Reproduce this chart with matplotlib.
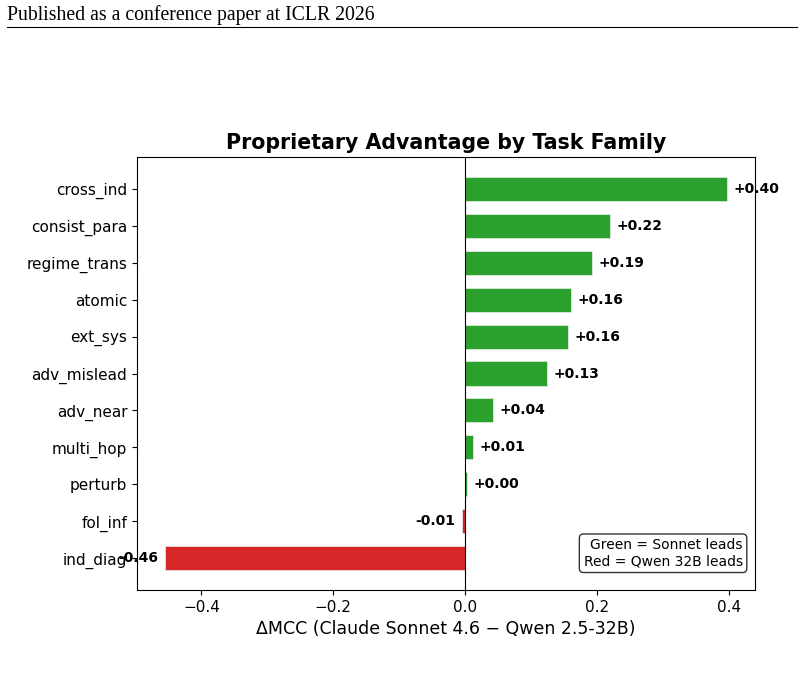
import matplotlib
matplotlib.use('Agg')
import matplotlib.pyplot as plt

families = ['cross_ind', 'consist_para', 'regime_trans', 'atomic', 'ext_sys', 'adv_mislead',
            'adv_near', 'multi_hop', 'perturb', 'fol_inf', 'ind_diag']
deltas = [0.397, 0.220, 0.192, 0.161, 0.156, 0.124, 0.042, 0.012, 0.003, -0.005, -0.455]
labels = ['+0.40', '+0.22', '+0.19', '+0.16', '+0.16', '+0.13', '+0.04', '+0.01', '+0.00', '-0.01', '-0.46']

fig = plt.figure(figsize=(8.04, 6.86), dpi=100)

# page header
fig.text(7 / 804, 1 - 15 / 686, 'Published as a conference paper at ICLR 2026',
         family='Liberation Serif', fontsize=14.2, va='center', ha='left')
fig.add_artist(plt.Line2D([7 / 804, 797 / 804], [1 - 27 / 686, 1 - 27 / 686],
                          color='black', linewidth=0.8))

ax = fig.add_axes([137 / 804, 1 - 590 / 686, (755 - 137) / 804, (590 - 157) / 686])

colors = ['#2ca02c' if d >= 0 else '#d62728' for d in deltas]
ypos = list(range(len(families)))
ax.barh(ypos, deltas, height=0.65, color=colors, edgecolor='#e8f0e8', linewidth=0.5)
ax.axvline(0, color='black', linewidth=0.8)

for y, d, lab in zip(ypos, deltas, labels):
    if d >= 0:
        ax.text(d + 0.01, y, lab, va='center', ha='left', fontsize=10, fontweight='bold')
    else:
        ax.text(d - 0.01, y, lab, va='center', ha='right', fontsize=10, fontweight='bold')

ax.set_yticks(ypos)
ax.set_yticklabels(families, fontsize=11)
ax.invert_yaxis()
ax.tick_params(axis='x', labelsize=11)
ax.set_xlabel('ΔMCC (Claude Sonnet 4.6 − Qwen 2.5-32B)', fontsize=12.5)
ax.set_title('Proprietary Advantage by Task Family', fontsize=14.8, fontweight='bold')

ax.text(0.98, 0.05, 'Green = Sonnet leads\nRed = Qwen 32B leads', transform=ax.transAxes,
        ha='right', va='bottom', fontsize=10,
        bbox=dict(boxstyle='round,pad=0.3', facecolor='white', edgecolor='black', alpha=0.8))

fig.savefig('out.png', dpi=100)
